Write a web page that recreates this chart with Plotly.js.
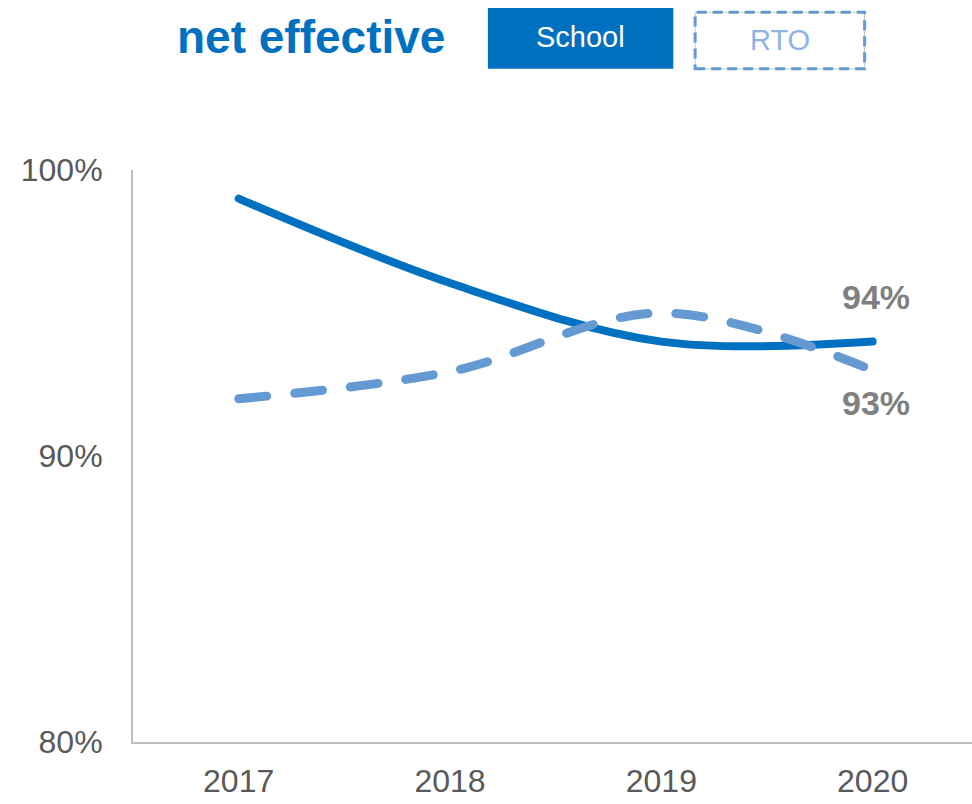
<!DOCTYPE html>
<html>
<head>
<meta charset="utf-8">
<script src="https://cdn.plot.ly/plotly-3.0.1.min.js"></script>
<style>
  html, body { margin: 0; padding: 0; background: #fff; }
  #chart { width: 972px; height: 804px; }
  .js-line { stroke-linecap: round; }
</style>
</head>
<body>
<div id="chart"></div>
<script>
const chartTitle = "net effective";
const years = ["2017", "2018", "2019", "2020"];
const seriesNames = ["School", "RTO"];
const schoolValues = [99.0, 96.05, 94.0, 94.0];
const rtoValues = [92.0, 92.95, 95.0, 93.0];
const yTickVals = [80, 90, 100];
const yTickText = ["80%", "90%", "100%"];
const endLabels = ["94%", "93%"];

const cSchool = "#0070c0";
const cRto = "#6499d2";
const font = "Liberation Sans, Arial, sans-serif";

const traces = [
  { x: years, y: schoolValues, name: seriesNames[0], type: "scatter", mode: "lines",
    line: { color: cSchool, width: 8, shape: "spline", smoothing: 1 }, showlegend: false, hoverinfo: "skip" },
  { x: years, y: rtoValues, name: seriesNames[1], type: "scatter", mode: "lines",
    line: { color: cRto, width: 9, shape: "spline", smoothing: 1, dash: "28px,28px" }, showlegend: false, hoverinfo: "skip" }
];

const last = years.length - 1;
const layout = {
  width: 972, height: 804,
  margin: { l: 133, r: 0, t: 170, b: 62 },
  paper_bgcolor: "#fff", plot_bgcolor: "#fff",
  font: { family: font, color: "#595959" },
  showlegend: false,
  xaxis: {
    type: "category", range: [-0.5, 3.47],
    showgrid: false, zeroline: false, showline: true, linecolor: "#bfbfbf", linewidth: 2,
    ticks: "", ticklabelstandoff: 10, tickfont: { size: 32, color: "#595959", family: font }
  },
  yaxis: {
    range: [80, 100], tickvals: yTickVals, ticktext: yTickText,
    showgrid: false, zeroline: false, showline: true, linecolor: "#bfbfbf", linewidth: 2,
    ticks: "", ticklabelstandoff: 22, tickfont: { size: 32, color: "#595959", family: font }
  },
  shapes: [
    { type: "rect", xref: "paper", yref: "paper", x0: 0.423, x1: 0.644, y0: 1.177, y1: 1.283,
      fillcolor: cSchool, line: { width: 0 } },
    { type: "rect", xref: "paper", yref: "paper", x0: 0.670, x1: 0.872, y0: 1.177, y1: 1.276,
      fillcolor: "rgba(0,0,0,0)", line: { color: "#c8c8c8", width: 1 } },
    { type: "rect", xref: "paper", yref: "paper", x0: 0.670, x1: 0.872, y0: 1.177, y1: 1.276,
      fillcolor: "rgba(0,0,0,0)", line: { color: cRto, width: 3, dash: "10px,6px" } }
  ],
  annotations: [
    { text: "<b>" + chartTitle + "</b>", xref: "paper", yref: "paper", x: 0.212, y: 1.233,
      xanchor: "center", yanchor: "middle", showarrow: false,
      font: { size: 46, color: cSchool, family: font } },
    { text: seriesNames[0], xref: "paper", yref: "paper", x: 0.5335, y: 1.232,
      xanchor: "center", yanchor: "middle", showarrow: false,
      font: { size: 29, color: "#ffffff", family: font } },
    { text: seriesNames[1], xref: "paper", yref: "paper", x: 0.771, y: 1.228,
      xanchor: "center", yanchor: "middle", showarrow: false,
      font: { size: 29, color: "#8db3e2", family: font } },
    { text: "<b>" + endLabels[0] + "</b>", x: last, y: schoolValues[last], xref: "x", yref: "y",
      showarrow: false, yshift: 45, xshift: 3, xanchor: "center", yanchor: "middle",
      font: { size: 34, color: "#808080", family: font } },
    { text: "<b>" + endLabels[1] + "</b>", x: last, y: rtoValues[last], xref: "x", yref: "y",
      showarrow: false, yshift: -33, xshift: 3, xanchor: "center", yanchor: "middle",
      font: { size: 34, color: "#808080", family: font } }
  ]
};

Plotly.newPlot("chart", traces, layout, { displayModeBar: false, staticPlot: true });
</script>
</body>
</html>
